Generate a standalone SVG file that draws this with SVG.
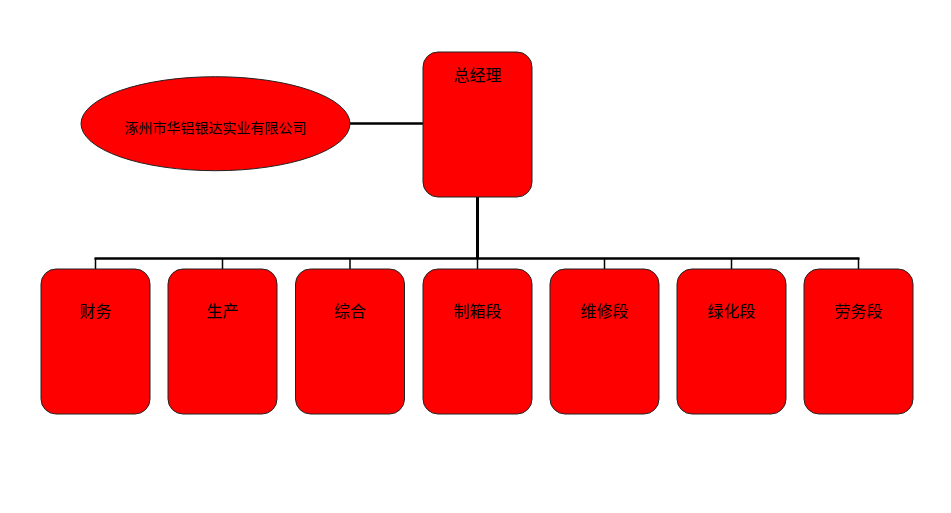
<svg xmlns="http://www.w3.org/2000/svg" width="951" height="513" viewBox="0 0 951 513">
<style>
.n{fill:#ff0000;stroke:#222;stroke-width:1}
.t{font-family:"Noto Sans CJK SC","Liberation Sans",sans-serif;font-size:16px;fill:#000;text-anchor:middle}
.s{font-size:14px}
.c{stroke:#000;fill:none}
</style>
<rect width="951" height="513" fill="#fff"/>
<g id="connectors">
<line class="c" x1="350" y1="123.5" x2="423" y2="123.5" stroke-width="2.5"/>
<line class="c" x1="477.5" y1="197" x2="477.5" y2="259" stroke-width="3"/>
<line class="c" x1="94.5" y1="258.5" x2="859.5" y2="258.5" stroke-width="2.5"/>
<path class="c" stroke-width="1.5" d="M95.5 258V269M222.5 258V269M350 258V269M477.5 258V269M604.5 258V269M731.5 258V269M858.5 258V269"/>
</g>
<g id="company"><ellipse class="n" cx="215.5" cy="123.7" rx="134.5" ry="47"/><text class="t s" x="215.5" y="132.5">涿州市华铝银达实业有限公司</text></g>
<g id="gm"><rect class="n" x="423" y="52" width="109" height="145" rx="15"/><text class="t" x="477.5" y="81">总经理</text></g>
<g id="finance"><rect class="n" x="41" y="269" width="109" height="145" rx="15"/><text class="t" x="95.5" y="317">财务</text></g>
<g id="production"><rect class="n" x="168" y="269" width="109" height="145" rx="15"/><text class="t" x="222.5" y="317">生产</text></g>
<g id="general"><rect class="n" x="295.5" y="269" width="109" height="145" rx="15"/><text class="t" x="350" y="317">综合</text></g>
<g id="boxmaking"><rect class="n" x="423" y="269" width="109" height="145" rx="15"/><text class="t" x="477.5" y="317">制箱段</text></g>
<g id="repair"><rect class="n" x="550" y="269" width="109" height="145" rx="15"/><text class="t" x="604.5" y="317">维修段</text></g>
<g id="greening"><rect class="n" x="677" y="269" width="109" height="145" rx="15"/><text class="t" x="731.5" y="317">绿化段</text></g>
<g id="labor"><rect class="n" x="804" y="269" width="109" height="145" rx="15"/><text class="t" x="858.5" y="317">劳务段</text></g>
</svg>
